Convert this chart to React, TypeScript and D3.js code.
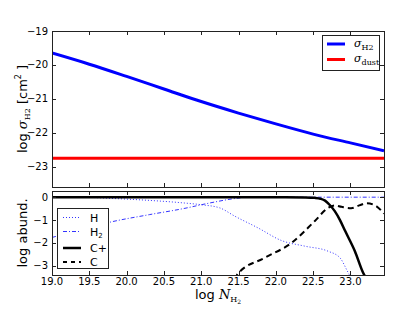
import React from 'react';
import * as d3 from 'd3';

// top panel: cross sections
const logNTop = [19.0, 19.5, 20.0, 20.5, 21.0, 21.5, 22.0, 22.5, 23.0, 23.45];
const sigmaH2 = [-19.65, -19.98, -20.34, -20.71, -21.08, -21.42, -21.74, -22.04, -22.3, -22.53];
const sigmaDust = [-22.75, -22.75, -22.75, -22.75, -22.75, -22.75, -22.75, -22.75, -22.75, -22.75];

// bottom panel: abundances
const hX = [19.0, 19.5, 19.78, 20.2, 20.76, 21.0, 21.25, 21.45, 21.76, 22.08, 22.39, 22.7, 22.86, 22.97, 23.02];
const hY = [0, -0.01, -0.05, -0.12, -0.25, -0.33, -0.47, -0.83, -1.34, -1.9, -2.14, -2.36, -2.65, -3.3, -3.6];
const h2X = [19.0, 19.4, 19.78, 20.31, 20.76, 21.12, 21.45, 21.63, 22.0, 23.45];
const h2Y = [-1.76, -1.41, -1.09, -0.76, -0.5, -0.25, -0.06, 0, 0, 0];
const cpX = [19.0, 22.0, 22.4, 22.52, 22.6, 22.66, 22.72, 22.79, 22.86, 22.93, 23.06, 23.17, 23.22];
const cpY = [0, 0, -0.01, -0.03, -0.07, -0.15, -0.33, -0.61, -1.0, -1.48, -2.36, -3.3, -3.6];
const cX = [21.45, 21.49, 21.85, 22.21, 22.52, 22.7, 22.79, 22.88, 23.01, 23.12, 23.22, 23.35, 23.45];
const cY = [-3.6, -3.35, -2.65, -2.0, -1.05, -0.47, -0.36, -0.42, -0.48, -0.36, -0.26, -0.4, -0.72];

const xTicks = [19.0, 19.5, 20.0, 20.5, 21.0, 21.5, 22.0, 22.5, 23.0];
const topYTicks = [-19, -20, -21, -22, -23];
const botYTicks = [0, -1, -2, -3];

const W = 415, H = 313;
const left = 52, right = 384;
const top1 = 31, bot1 = 187;
const top2 = 191, bot2 = 275;

const sans = 'DejaVu Sans';
const serif = 'DejaVu Serif';
const fmtMinus = (v: number) => (v < 0 ? '\u2212' + Math.abs(v) : String(v));

export default function App() {
  const x = d3.scaleLinear().domain([19, 23.45]).range([left, right]);
  const y1 = d3.scaleLinear().domain([-23.6, -19]).range([bot1, top1]);
  const y2 = d3.scaleLinear().domain([-3.4, 0.27]).range([bot2, top2]);

  const line1 = (ys: number[]) =>
    d3.line<number>().x((_, i) => x(logNTop[i])).y(d => y1(d)).curve(d3.curveMonotoneX)(ys) || '';
  const line2 = (xs: number[], ys: number[]) =>
    d3.line<number>().x((_, i) => x(xs[i])).y(d => y2(d)).curve(d3.curveMonotoneX)(ys) || '';

  const spine = '#222';
  const tick = 4;

  const frame = (t: number, b: number, yScale: d3.ScaleLinear<number, number>, yt: number[], labelX: boolean) => (
    <g>
      <rect x={left + 0.5} y={t + 0.5} width={right - left} height={b - t} fill="none" stroke={spine} strokeWidth={1} />
      {xTicks.map(v => (
        <g key={'x' + v}>
          <line x1={Math.round(x(v)) + 0.5} x2={Math.round(x(v)) + 0.5} y1={b} y2={b - tick} stroke={spine} />
          <line x1={Math.round(x(v)) + 0.5} x2={Math.round(x(v)) + 0.5} y1={t} y2={t + tick} stroke={spine} />
          {labelX && (
            <text x={x(v)} y={b + 10} textAnchor="middle" fontFamily={sans} fontSize={10}>
              {v.toFixed(1)}
            </text>
          )}
        </g>
      ))}
      {yt.map(v => (
        <g key={'y' + v}>
          <line x1={left} x2={left + tick} y1={Math.round(yScale(v)) + 0.5} y2={Math.round(yScale(v)) + 0.5} stroke={spine} />
          <line x1={right} x2={right - tick} y1={Math.round(yScale(v)) + 0.5} y2={Math.round(yScale(v)) + 0.5} stroke={spine} />
          <text x={left - 4} y={yScale(v)} textAnchor="end" dominantBaseline="central" fontFamily={sans} fontSize={10}>
            {fmtMinus(v)}
          </text>
        </g>
      ))}
    </g>
  );

  return (
    <svg width={W} height={H} style={{ position: 'absolute', left: 0, top: 0, background: '#fff' }}>
      <defs>
        <clipPath id="c1"><rect x={left} y={top1} width={right - left} height={bot1 - top1} /></clipPath>
        <clipPath id="c2"><rect x={left} y={top2} width={right - left} height={bot2 - top2} /></clipPath>
      </defs>

      {/* top panel */}
      <g clipPath="url(#c1)">
        <path d={line1(sigmaDust)} fill="none" stroke="#ff0000" strokeWidth={3} />
        <path d={line1(sigmaH2)} fill="none" stroke="#0000ff" strokeWidth={3} />
      </g>
      {frame(top1, bot1, y1, topYTicks, false)}

      {/* legend top */}
      <rect x={322.5} y={35.5} width={57} height={35} fill="#fff" stroke={spine} />
      <line x1={327} x2={345} y1={44} y2={44} stroke="#0000ff" strokeWidth={3} />
      <line x1={327} x2={345} y1={59.5} y2={59.5} stroke="#ff0000" strokeWidth={3} />
      <text x={354} y={47} fontFamily={serif} fontSize={11} fontStyle="italic">
        σ<tspan fontStyle="normal" fontSize={8} dy={3}>H2</tspan>
      </text>
      <text x={354} y={62} fontFamily={serif} fontSize={11} fontStyle="italic">
        σ<tspan fontStyle="normal" fontSize={8} dy={3}>dust</tspan>
      </text>

      {/* bottom panel */}
      <g clipPath="url(#c2)">
        <path d={line2(hX, hY)} fill="none" stroke="#3333ff" strokeWidth={1} strokeDasharray="1,2" />
        <path d={line2(h2X, h2Y)} fill="none" stroke="#3333ff" strokeWidth={1} strokeDasharray="4,2,1,2" />
        <path d={line2(cX, cY)} fill="none" stroke="#000" strokeWidth={2} strokeDasharray="6,4" />
        <path d={line2(cpX, cpY)} fill="none" stroke="#000" strokeWidth={2.5} />
      </g>
      {frame(top2, bot2, y2, botYTicks, true)}

      {/* legend bottom */}
      <rect x={57.5} y={208.5} width={51} height={60} fill="#fff" stroke={spine} />
      <line x1={63} x2={81} y1={217.5} y2={217.5} stroke="#3333ff" strokeWidth={1} strokeDasharray="1,2" />
      <line x1={63} x2={81} y1={231.5} y2={231.5} stroke="#3333ff" strokeWidth={1} strokeDasharray="4,2,1,2" />
      <line x1={63} x2={81} y1={248} y2={248} stroke="#000" strokeWidth={2.5} />
      <line x1={63} x2={81} y1={262} y2={262} stroke="#000" strokeWidth={2} strokeDasharray="4,4" />
      <text x={90} y={221.5} fontFamily={sans} fontSize={11}>H</text>
      <text x={90} y={235.5} fontFamily={sans} fontSize={11}>H<tspan fontSize={7} dy={2}>2</tspan></text>
      <text x={90} y={252} fontFamily={sans} fontSize={11}>C+</text>
      <text x={90} y={266} fontFamily={sans} fontSize={11}>C</text>

      {/* axis labels */}
      <text transform={`translate(27,${(top1 + bot1) / 2}) rotate(-90)`} textAnchor="middle" fontFamily={sans} fontSize={13}>
        log <tspan fontFamily={serif} fontStyle="italic">σ</tspan>
        <tspan fontFamily={serif} fontSize={8} dy={3}>H2</tspan>
        <tspan dy={-3}> [cm</tspan>
        <tspan fontSize={8} dy={-6}>2</tspan>
        <tspan dy={6}> ]</tspan>
      </text>
      <text transform={`translate(27,${(top2 + bot2) / 2}) rotate(-90)`} textAnchor="middle" fontFamily={sans} fontSize={13}>
        log abund.
      </text>
      <text x={(left + right) / 2} y={299} textAnchor="middle" fontFamily={sans} fontSize={13}>
        log <tspan fontFamily={serif} fontStyle="italic">N</tspan>
        <tspan fontFamily={serif} fontSize={8} dy={3}>H</tspan>
        <tspan fontFamily={serif} fontSize={6} dy={2}>2</tspan>
      </text>
    </svg>
  );
}
